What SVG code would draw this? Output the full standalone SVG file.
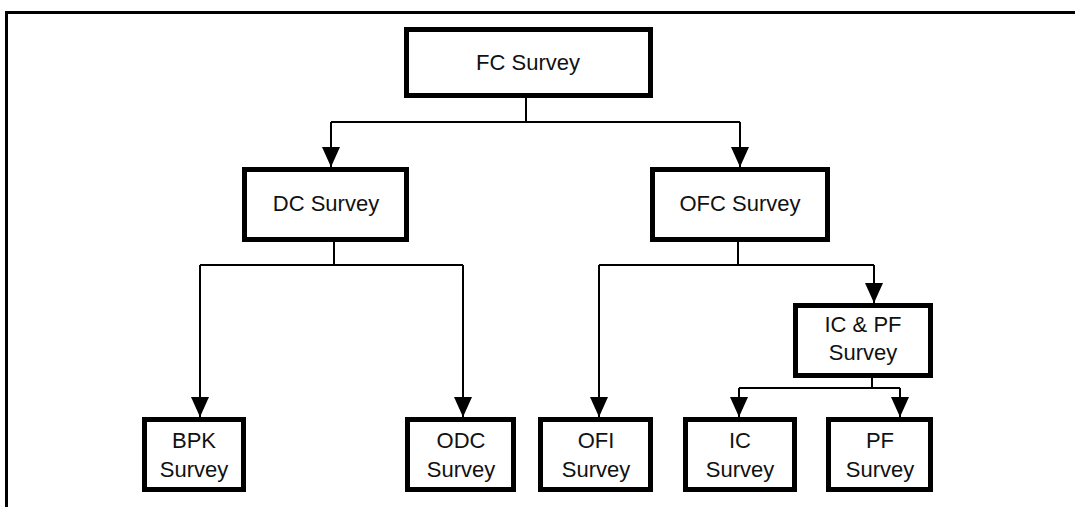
<svg xmlns="http://www.w3.org/2000/svg" width="1075" height="507" viewBox="0 0 1075 507">
  <style>
    .box { fill: #ffffff; stroke: #000000; stroke-width: 5; }
    .lbl { font-family: "Liberation Sans", Arial, sans-serif; font-size: 22px; fill: #111111; text-anchor: middle; }
    .conn { fill: none; stroke: #000000; stroke-width: 2; }
    .frame { fill: none; stroke: #000000; stroke-width: 3; }
  </style>
  <defs>
    <marker id="arrow" markerUnits="userSpaceOnUse" markerWidth="20" markerHeight="18" refX="20" refY="9" orient="auto">
      <path d="M0,0 L20,9 L0,18 Z" fill="#000000"/>
    </marker>
  </defs>
  <rect width="1075" height="507" fill="#ffffff"/>
  <path class="frame" d="M6.5,507 V12.5 H1075"/>

  <g id="connectors">
    <path class="conn" d="M526,98 V122 M331,122 H740"/>
    <path class="conn" d="M331,122 V167" marker-end="url(#arrow)"/>
    <path class="conn" d="M740,122 V167" marker-end="url(#arrow)"/>

    <path class="conn" d="M334,242 V265 M200,265 H463"/>
    <path class="conn" d="M200,265 V417" marker-end="url(#arrow)"/>
    <path class="conn" d="M463,265 V417" marker-end="url(#arrow)"/>

    <path class="conn" d="M738,242 V265 M599,265 H874"/>
    <path class="conn" d="M599,265 V417" marker-end="url(#arrow)"/>
    <path class="conn" d="M874,265 V303" marker-end="url(#arrow)"/>

    <path class="conn" d="M872,378 V388 M739,388 H900"/>
    <path class="conn" d="M739,388 V417" marker-end="url(#arrow)"/>
    <path class="conn" d="M900,388 V417" marker-end="url(#arrow)"/>
  </g>

  <g id="fc">
    <rect class="box" x="406.5" y="29.5" width="244" height="66"/>
    <text class="lbl" x="528" y="69.5">FC Survey</text>
  </g>
  <g id="dc">
    <rect class="box" x="244.5" y="169.5" width="162" height="70"/>
    <text class="lbl" x="326" y="211">DC Survey</text>
  </g>
  <g id="ofc">
    <rect class="box" x="652.5" y="169.5" width="175" height="70"/>
    <text class="lbl" x="740" y="211">OFC Survey</text>
  </g>
  <g id="icpf">
    <rect class="box" x="795.5" y="305.5" width="135" height="70"/>
    <text class="lbl" x="863" y="332">IC &amp; PF</text>
    <text class="lbl" x="863" y="360">Survey</text>
  </g>
  <g id="bpk">
    <rect class="box" x="144.5" y="419.5" width="99" height="70"/>
    <text class="lbl" x="194" y="447.5">BPK</text>
    <text class="lbl" x="194" y="476.5">Survey</text>
  </g>
  <g id="odc">
    <rect class="box" x="407.5" y="419.5" width="106" height="70"/>
    <text class="lbl" x="461" y="447.5">ODC</text>
    <text class="lbl" x="461" y="476.5">Survey</text>
  </g>
  <g id="ofi">
    <rect class="box" x="540.5" y="419.5" width="110" height="70"/>
    <text class="lbl" x="596" y="447.5">OFI</text>
    <text class="lbl" x="596" y="476.5">Survey</text>
  </g>
  <g id="ic">
    <rect class="box" x="685.5" y="419.5" width="109" height="70"/>
    <text class="lbl" x="740" y="447.5">IC</text>
    <text class="lbl" x="740" y="476.5">Survey</text>
  </g>
  <g id="pf">
    <rect class="box" x="828.5" y="419.5" width="102" height="70"/>
    <text class="lbl" x="880" y="447.5">PF</text>
    <text class="lbl" x="880" y="476.5">Survey</text>
  </g>
</svg>
